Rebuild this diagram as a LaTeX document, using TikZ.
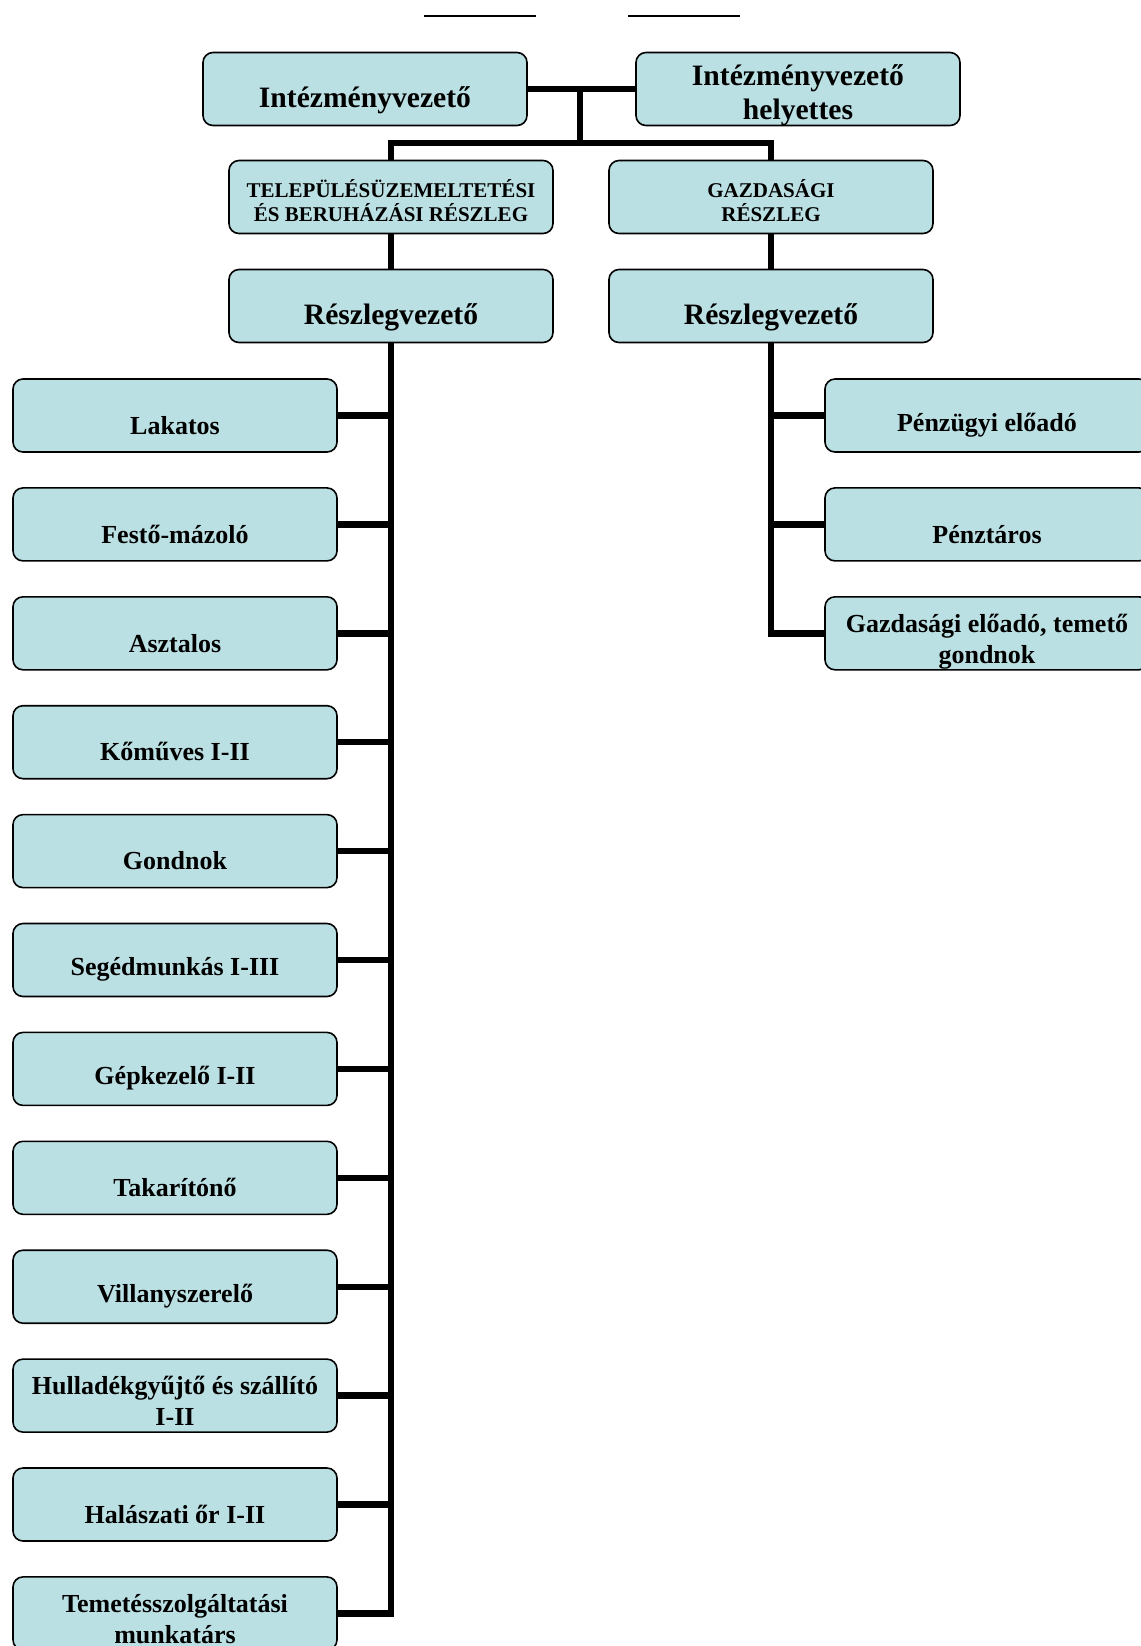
\documentclass[tikz,border=0pt]{standalone}
\usepackage{fontspec}
\setmainfont{Liberation Serif}
\usetikzlibrary{positioning}
\definecolor{boxfill}{RGB}{187,224,227}

\begin{document}
\begin{tikzpicture}[x=0.5pt,y=-0.5pt,
    box/.style={draw,line width=0.8pt,fill=boxfill,rounded corners=5pt,
      minimum width=162pt,minimum height=36.5pt,inner sep=2pt,align=center,
      font=\bfseries\fontsize{13}{15.4}\selectfont,
      execute at begin node={\rule{0pt}{1.45em}}},
    lowered/.style={text height=#1,text depth=0pt},
    title/.style={box,font=\bfseries\fontsize{14.8}{16.8}\selectfont},
    dept/.style={box,font=\bfseries\fontsize{10.5}{11.8}\selectfont},
    link/.style={line width=3.2pt},
    cut/.style={line width=1pt}]
    \useasboundingbox (0,0) rectangle (1141,1646);
    \clip (0,0) rectangle (1141,1646);
    \draw[cut] (424,15.5) -- (536,15.5);
    \draw[cut] (628,15.5) -- (740,15.5);
    \node[title] (head) at (365,89) {Intézményvezető};
    \node[title,lowered=30pt] (deputy) at (798,89) {Intézményvezető\\helyettes};
    \node[dept,lowered=24.5pt] (opsdept) at (391,197) {TELEPÜLÉSÜZEMELTETÉSI\\ÉS BERUHÁZÁSI RÉSZLEG};
    \node[dept,lowered=24.5pt] (findept) at (771,197) {GAZDASÁGI\\RÉSZLEG};
    \node[title] (opslead) at (391,306) {Részlegvezető};
    \node[title] (finlead) at (771,306) {Részlegvezető};
    \node[box] (lakatos) at (175,415.5) {Lakatos};
    \node[box] (festo) at (175,524.4) {Festő-mázoló};
    \node[box] (asztalos) at (175,633.3) {Asztalos};
    \node[box] (komuves) at (175,742.2) {Kőműves I-II};
    \node[box] (gondnok) at (175,851.1) {Gondnok};
    \node[box] (segedm) at (175,960) {Segédmunkás I-III};
    \node[box] (gepkez) at (175,1068.9) {Gépkezelő I-II};
    \node[box] (takarito) at (175,1177.8) {Takarítónő};
    \node[box] (villany) at (175,1286.7) {Villanyszerelő};
    \node[box,lowered=30pt] (hullad) at (175,1395.6) {Hulladékgyűjtő és szállító\\I-II};
    \node[box] (halasz) at (175,1504.5) {Halászati őr I-II};
    \node[box,lowered=30pt] (temetes) at (175,1613.4) {Temetésszolgáltatási\\munkatárs};
    \node[box] (penzugy) at (987,415.5) {Pénzügyi előadó};
    \node[box] (penztar) at (987,524.4) {Pénztáros};
    \node[box,lowered=30pt] (gazdel) at (987,633.3) {Gazdasági előadó, temető\\gondnok};
    \coordinate (topjoin) at (580,89);
    \coordinate (split) at (580,143);
    \draw[link] (head.east) -- (deputy.west);
    \draw[link] (topjoin) -- (split);
    \draw[link] (opsdept.north) |- (split) -| (findept.north);
    \draw[link] (opsdept.south) -- (opslead.north);
    \draw[link] (findept.south) -- (finlead.north);
    \draw[link] (opslead.south) |- (temetes.east);
    \draw[link] (lakatos.east) -- (lakatos.east -| opslead.south);
    \draw[link] (festo.east) -- (festo.east -| opslead.south);
    \draw[link] (asztalos.east) -- (asztalos.east -| opslead.south);
    \draw[link] (komuves.east) -- (komuves.east -| opslead.south);
    \draw[link] (gondnok.east) -- (gondnok.east -| opslead.south);
    \draw[link] (segedm.east) -- (segedm.east -| opslead.south);
    \draw[link] (gepkez.east) -- (gepkez.east -| opslead.south);
    \draw[link] (takarito.east) -- (takarito.east -| opslead.south);
    \draw[link] (villany.east) -- (villany.east -| opslead.south);
    \draw[link] (hullad.east) -- (hullad.east -| opslead.south);
    \draw[link] (halasz.east) -- (halasz.east -| opslead.south);
    \draw[link] (finlead.south) |- (gazdel.west);
    \draw[link] (penzugy.west) -- (penzugy.west -| finlead.south);
    \draw[link] (penztar.west) -- (penztar.west -| finlead.south);
\end{tikzpicture}
\end{document}
